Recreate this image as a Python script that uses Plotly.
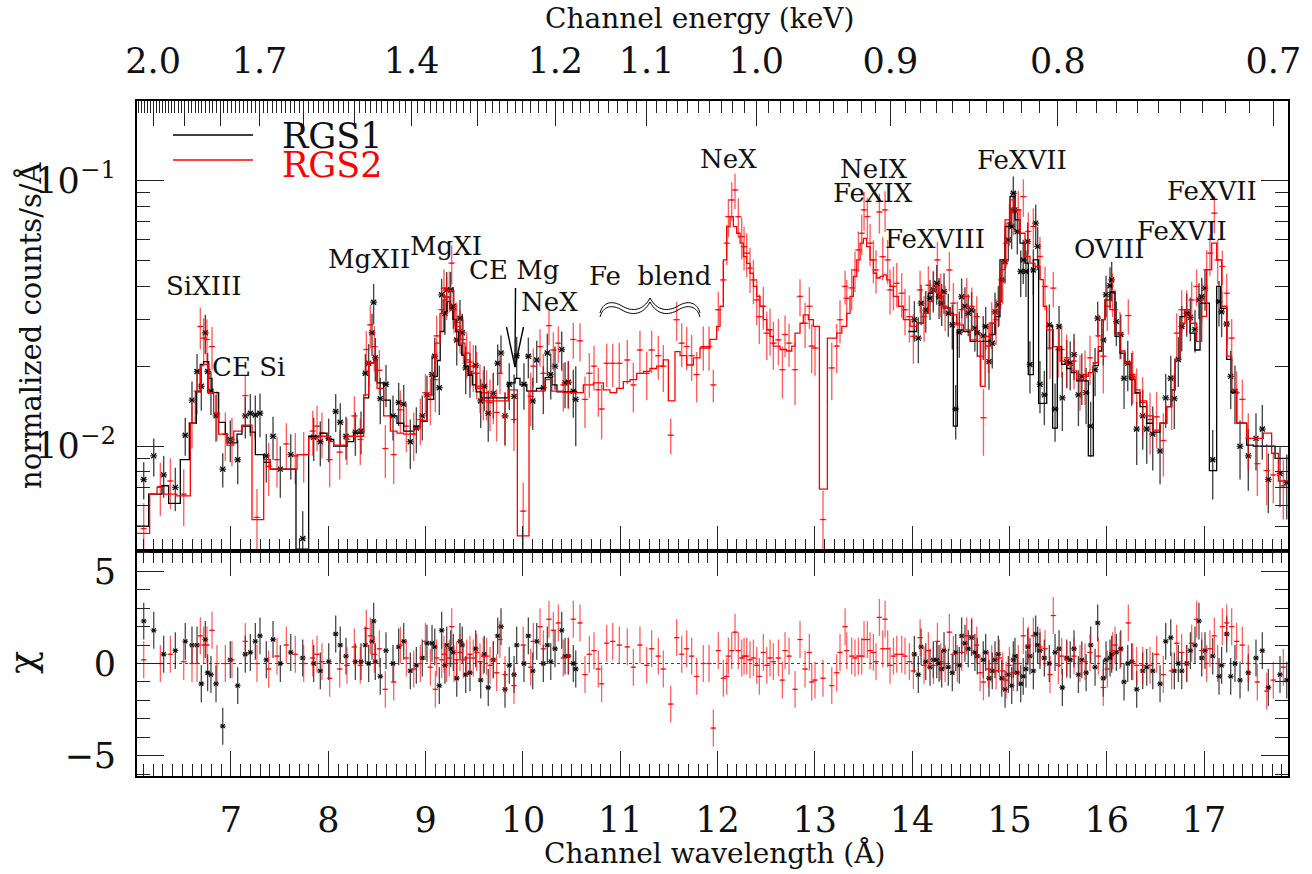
import plotly.graph_objects as go

# ------------------------------------------------------------------
# DATA  (fluxes, errors and model values in units of 1e-3 counts/s/Å)
# ------------------------------------------------------------------
FLUX_UNIT = 1e-3

# RGS1 data points (wavelength Å, flux, 1-sigma error, chi residual)
rgs1_wl = [
    6.103, 6.206, 6.308, 6.428, 6.530, 6.599, 6.651, 6.695, 6.736, 6.760,
    6.794, 6.846, 6.915, 6.993, 7.069, 7.147, 7.199, 7.250, 7.298, 7.363,
    7.432, 7.507, 7.614, 7.737, 7.850, 7.918, 8.004, 8.076, 8.123, 8.182,
    8.278, 8.336, 8.381, 8.415, 8.449, 8.466, 8.483, 8.534, 8.593, 8.665,
    8.723, 8.775, 8.843, 8.905, 8.966, 9.014, 9.066, 9.094, 9.141, 9.165,
    9.199, 9.217, 9.258, 9.285, 9.320, 9.353, 9.377, 9.412, 9.456, 9.515,
    9.566, 9.603, 9.644, 9.696, 9.741, 9.775, 9.816, 9.860, 9.909, 9.936,
    10.011, 10.056, 10.101, 10.142, 10.210, 10.251, 10.286, 10.330, 10.399, 10.433,
    10.467, 10.518, 10.543,
    14.023, 14.064, 14.092, 14.140, 14.184, 14.218, 14.253, 14.277, 14.304, 14.328,
    14.372, 14.413, 14.448, 14.485, 14.509, 14.543, 14.577, 14.611, 14.645, 14.670,
    14.731, 14.756, 14.790, 14.824, 14.852, 14.886, 14.921, 14.955, 14.989, 15.023,
    15.040, 15.057, 15.081, 15.116, 15.142, 15.170, 15.188, 15.211, 15.246, 15.270,
    15.290, 15.314, 15.359, 15.410, 15.469, 15.510, 15.544, 15.589, 15.625, 15.664,
    15.709, 15.744, 15.788, 15.835, 15.880, 15.907, 15.965, 15.993, 16.034, 16.051,
    16.099, 16.144, 16.178, 16.216, 16.257, 16.308, 16.370, 16.411, 16.473, 16.548,
    16.606, 16.658, 16.695, 16.736, 16.771, 16.822, 16.860, 16.907, 16.948, 16.976,
    17.010, 17.089, 17.154, 17.181, 17.233, 17.274, 17.318, 17.370, 17.455, 17.534,
    17.599, 17.661, 17.781, 17.850,
]
rgs1_flux = [
    7.5, 9.2, 7.8, 7.0, 11.0, 14.9, 19.1, 16.8, 26.7, 19.1,
    16.1, 13.0, 8.2, 10.6, 8.9, 13.0, 13.3, 13.1, 13.3, 9.2,
    10.9, 8.2, 9.3, 4.5, 10.8, 10.4, 10.7, 13.5, 12.3, 10.9,
    11.3, 11.4, 18.8, 20.5, 26.7, 34.8, 21.5, 15.1, 17.1, 13.0,
    14.6, 14.4, 10.4, 11.7, 13.0, 15.6, 18.6, 21.8, 16.6, 37.1,
    31.6, 38.7, 38.7, 33.6, 25.1, 30.3, 26.7, 19.7, 18.8, 20.1,
    14.8, 16.8, 13.3, 15.8, 20.5, 22.4, 13.0, 17.1, 15.4, 21.9,
    17.1, 21.8, 14.8, 21.1, 16.6, 22.4, 18.6, 20.0, 23.1, 17.3,
    17.4, 16.1, 15.0,
    29.9, 25.5, 34.5, 32.5, 36.0, 38.7, 41.0, 36.5, 34.5, 38.1,
    31.6, 28.6, 13.8, 26.8, 36.5, 33.6, 31.6, 32.5, 27.8, 26.7,
    26.0, 28.2, 20.8, 24.4, 32.0, 34.0, 42.2, 49.4, 59.7, 67.0,
    89.3, 77.4, 64.1, 45.4, 50.2, 45.4, 58.8, 20.3, 46.0, 69.0,
    56.4, 17.1, 15.6, 28.6, 13.8, 28.2, 15.2, 20.8, 20.5, 22.1,
    15.6, 18.3, 15.9, 11.9, 19.4, 30.3, 25.1, 37.1, 40.1, 42.2,
    29.4, 26.3, 18.0, 20.5, 18.3, 11.6, 13.0, 11.6, 11.1, 9.6,
    15.2, 18.0, 15.1, 21.2, 28.2, 31.6, 30.5, 27.5, 35.5, 36.5,
    39.3, 8.9, 35.0, 32.0, 28.8, 18.3, 16.1, 10.0, 9.2, 10.7,
    11.6, 7.5, 7.9, 7.3,
]
rgs1_err = [
    1.2, 1.5, 1.4, 1.3, 1.8, 2.6, 3.1, 3.2, 4.5, 3.3,
    3.0, 2.6, 1.2, 1.9, 1.7, 2.3, 2.4, 2.4, 2.5, 1.9,
    2.0, 1.8, 1.8, 1.2, 2.0, 2.0, 2.0, 2.2, 2.2, 2.0,
    2.1, 2.1, 3.4, 3.7, 4.8, 6.0, 4.0, 3.0, 3.1, 2.5,
    2.7, 2.6, 2.2, 2.3, 2.5, 2.8, 3.2, 3.8, 3.5, 5.5,
    5.4, 6.5, 6.5, 6.0, 5.0, 5.2, 4.8, 4.0, 3.6, 3.8,
    3.1, 3.2, 2.9, 3.1, 3.6, 3.7, 2.9, 3.4, 3.2, 3.9,
    3.4, 3.8, 3.3, 3.8, 3.4, 4.1, 3.6, 3.7, 3.9, 3.4,
    3.5, 3.3, 5.0,
    5.2, 5.0, 6.0, 5.8, 6.2, 6.6, 7.0, 6.4, 6.2, 6.6,
    5.8, 5.5, 3.2, 5.3, 6.2, 6.0, 5.7, 5.5, 5.1, 5.0,
    4.9, 5.2, 4.5, 4.8, 5.8, 6.0, 7.5, 8.5, 10.0, 12.0,
    14.0, 13.0, 11.5, 9.0, 9.5, 9.0, 10.5, 4.5, 9.0, 12.0,
    10.5, 3.8, 3.6, 5.5, 3.4, 5.5, 3.8, 4.3, 4.3, 4.4,
    3.7, 4.0, 3.8, 2.8, 4.0, 4.6, 5.0, 6.6, 7.0, 7.2,
    5.6, 5.0, 4.2, 4.4, 4.1, 3.1, 3.3, 3.0, 3.0, 2.4,
    3.5, 3.9, 3.5, 4.5, 5.5, 5.8, 5.7, 5.0, 5.5, 6.5,
    7.0, 2.6, 6.8, 6.3, 4.8, 4.5, 4.0, 2.5, 2.4, 2.6,
    2.7, 1.9, 2.0, 2.0,
]
rgs1_chi = [
    2.3, 1.8, 0.5, 0.7, 1.2, 1.0, 1.0, -1.1, 1.3, -0.5,
    -0.6, -1.1, -3.4, 0.2, -1.2, 0.5, 0.6, 1.2, 1.5, 0.2,
    1.3, 0.0, 0.6, 0.3, 0.0, -0.4, 0.1, 1.6, 1.0, 0.4,
    0.1, 0.1, 1.0, 0.0, 1.2, 2.3, 0.1, -0.7, 0.7, 0.0,
    0.9, 1.2, -0.4, -0.1, 0.3, 1.1, 1.1, 0.9, -1.2, 1.8,
    -0.1, 1.0, 0.8, 0.6, -0.8, 1.2, 1.0, -0.6, -0.5, 0.8,
    -0.9, 0.5, -1.3, 0.2, 1.5, 2.0, -1.4, -0.1, -0.6, 1.0,
    0.0, 1.5, -0.4, 1.2, 0.0, 1.0, 0.1, 0.8, 1.8, 0.4,
    0.4, 0.0, -0.3,
    0.5, -0.6, 0.9, 0.1, -0.2, 0.2, 0.2, 0.0, -0.3, 0.7,
    -0.2, -0.5, 0.6, -0.1, 1.5, 1.1, 0.8, 1.4, 0.6, 0.4,
    0.2, 0.6, -0.8, -0.4, 0.2, 0.5, -0.8, -1.4, -0.6, -1.2,
    0.2, 0.4, -0.5, -1.1, -0.7, -0.3, 0.9, 0.4, -0.4, 1.6,
    1.0, 0.7, 0.3, 0.0, 0.6, 0.8, -1.3, 0.3, 0.2, 0.8,
    -0.6, 0.2, -0.5, 1.0, -0.2, 2.2, -0.8, 0.2, 0.3, 0.5,
    0.6, 0.8, -1.0, 0.0, 0.1, -1.4, -0.4, -0.2, -0.4, -1.1,
    1.2, 1.4, -0.4, 0.0, -0.4, 0.0, 0.7, 1.0, 2.3, 0.3,
    0.7, 0.4, -0.7, -0.1, 1.6, -0.7, 0.0, -0.9, -0.5, 0.3,
    0.7, -1.3, -0.6, -0.9,
]

# RGS2 data points
rgs2_wl = [
    6.103, 6.274, 6.377, 6.514, 6.599, 6.651, 6.685, 6.719, 6.753, 6.805,
    6.856, 6.942, 7.010, 7.147, 7.267, 7.387, 7.473, 7.569, 7.661, 7.747,
    7.840, 7.884, 7.935, 8.014, 8.117, 8.192, 8.268, 8.329, 8.391, 8.432,
    8.473, 8.525, 8.586, 8.672, 8.741, 8.802, 8.878, 8.946, 8.998, 9.049,
    9.100, 9.114, 9.165, 9.189, 9.216, 9.244, 9.268, 9.292, 9.319, 9.353,
    9.388, 9.422, 9.456, 9.490, 9.525, 9.559, 9.593, 9.627, 9.662, 9.696,
    9.730, 9.764, 9.816, 9.908, 10.003, 10.080, 10.107, 10.176, 10.210, 10.268,
    10.313, 10.364, 10.415, 10.467, 10.518, 10.587, 10.638, 10.683, 10.731, 10.775,
    10.809, 10.861, 10.923, 10.991, 11.073, 11.135, 11.203, 11.272, 11.323, 11.392,
    11.443, 11.519, 11.580, 11.632, 11.683, 11.734, 11.786, 11.854, 11.913, 11.957,
    12.008, 12.060, 12.095, 12.112, 12.146, 12.180, 12.214, 12.249, 12.273, 12.300,
    12.334, 12.369, 12.403, 12.430, 12.471, 12.506, 12.540, 12.574, 12.626, 12.667,
    12.694, 12.735, 12.797, 12.848, 12.900, 12.944, 12.968, 13.002, 13.084, 13.174,
    13.225, 13.259, 13.311, 13.328, 13.379, 13.413, 13.448, 13.482, 13.506, 13.540,
    13.568, 13.602, 13.629, 13.664, 13.698, 13.722, 13.749, 13.773, 13.808, 13.842,
    13.893, 13.927, 13.972, 14.013, 14.082, 14.123, 14.167, 14.219, 14.260, 14.294,
    14.339, 14.383, 14.424, 14.465, 14.510, 14.561, 14.613, 14.664, 14.698, 14.733,
    14.784, 14.818, 14.863, 14.897, 14.931, 14.966, 15.000, 15.041, 15.091, 15.143,
    15.194, 15.246, 15.314, 15.366, 15.417, 15.451, 15.503, 15.537, 15.588, 15.664,
    15.725, 15.777, 15.828, 15.914, 15.965, 16.006, 16.061, 16.085, 16.136, 16.222,
    16.267, 16.308, 16.369, 16.445, 16.513, 16.582, 16.667, 16.719, 16.770, 16.822,
    16.873, 16.924, 16.976, 17.027, 17.061, 17.106, 17.140, 17.188, 17.233, 17.284,
    17.335, 17.394, 17.455, 17.548, 17.644, 17.712, 17.815,
]
rgs2_flux = [
    4.9, 7.06, 7.4, 6.6, 12.2, 16.1, 28.2, 25.5, 25.2, 23.7,
    13.3, 11.1, 10.6, 15.5, 5.4, 8.4, 8.9, 10.2, 9.2, 9.3,
    11.4, 11.9, 11.2, 8.9, 9.5, 10.6, 13.0, 10.6, 23.1, 28.6,
    23.7, 19.3, 9.8, 9.3, 13.7, 11.9, 11.1, 12.6, 15.9, 15.0,
    17.8, 26.0, 32.6, 39.3, 36.4, 38.6, 48.8, 32.6, 29.2, 27.4,
    25.2, 22.4, 20.7, 20.0, 18.8, 16.8, 15.9, 15.9, 14.6, 15.4,
    13.4, 18.8, 13.0, 12.6, 5.7, 15.4, 20.0, 23.7, 18.8, 28.4,
    23.0, 24.4, 17.0, 17.3, 25.2, 24.9, 15.0, 18.8, 20.0, 16.3,
    13.8, 20.5, 20.5, 20.5, 21.1, 17.0, 23.0, 18.8, 23.0, 21.9,
    20.0, 11.0, 29.9, 24.4, 23.7, 21.9, 18.6, 23.7, 23.7, 17.0,
    32.6, 42.2, 58.0, 73.0, 84.3, 91.9, 73.0, 61.4, 56.3, 53.2,
    46.7, 42.2, 35.5, 30.7, 33.6, 26.6, 27.4, 24.4, 25.1, 19.4,
    26.3, 24.4, 19.4, 36.6, 29.0, 33.6, 23.8, 23.4, 5.3, 19.7,
    23.8, 29.9, 39.9, 36.0, 39.4, 46.0, 54.7, 63.2, 77.4, 73.0,
    58.0, 50.2, 46.0, 76.0, 51.6, 77.4, 50.2, 38.7, 39.9, 41.0,
    37.6, 32.6, 30.7, 25.9, 38.7, 30.7, 40.3, 38.7, 50.2, 37.6,
    33.6, 46.0, 34.5, 29.0, 32.6, 36.6, 33.6, 30.7, 21.8, 12.8,
    23.8, 29.0, 29.9, 35.0, 42.2, 58.0, 69.0, 75.5, 77.4, 86.8,
    64.2, 67.0, 51.7, 39.9, 23.4, 39.3, 23.1, 23.1, 21.5, 20.9,
    17.8, 18.6, 21.5, 26.0, 21.8, 33.6, 37.6, 32.6, 26.6, 31.0,
    18.6, 15.8, 14.6, 12.6, 12.9, 10.5, 15.0, 26.6, 32.6, 32.6,
    35.5, 39.9, 35.5, 46.1, 53.2, 75.2, 50.2, 47.4, 37.6, 25.5,
    15.9, 15.0, 10.7, 8.6, 8.1, 7.8, 7.1,
]
rgs2_err = [
    1.2, 1.6, 1.6, 1.6, 2.4, 3.0, 5.0, 4.8, 4.8, 4.4,
    2.8, 2.3, 2.2, 3.0, 1.5, 1.9, 1.9, 2.0, 2.0, 2.0,
    2.2, 2.3, 2.2, 1.9, 2.0, 2.1, 2.4, 2.1, 4.0, 5.3,
    4.6, 3.7, 2.2, 2.1, 2.5, 2.4, 2.3, 2.5, 2.8, 3.0,
    4.4, 5.0, 5.8, 7.0, 6.6, 6.8, 8.1, 6.0, 5.5, 5.1,
    4.8, 4.4, 4.1, 4.0, 3.8, 3.5, 3.4, 3.4, 3.2, 3.3,
    3.0, 3.1, 3.0, 3.0, 1.6, 3.5, 3.3, 3.8, 3.4, 4.4,
    3.8, 3.8, 3.5, 3.5, 3.9, 4.1, 3.3, 3.6, 3.8, 3.4,
    3.2, 3.8, 3.8, 4.0, 4.0, 3.6, 4.2, 3.9, 4.2, 4.1,
    4.0, 1.7, 5.0, 4.6, 4.4, 4.3, 4.0, 4.5, 4.5, 2.4,
    5.5, 7.5, 10.0, 12.0, 14.0, 14.0, 12.5, 11.0, 10.5, 10.0,
    9.0, 8.0, 7.0, 6.5, 6.2, 5.5, 5.5, 5.0, 5.0, 4.3,
    4.7, 4.5, 5.1, 5.8, 5.6, 6.0, 5.0, 5.0, 1.5, 4.8,
    5.0, 5.5, 5.8, 6.2, 7.0, 8.0, 9.5, 11.0, 13.0, 13.0,
    10.5, 9.2, 8.5, 13.0, 9.5, 13.5, 9.5, 7.5, 7.5, 7.8,
    7.2, 6.5, 6.2, 5.5, 7.0, 6.0, 7.2, 7.0, 8.5, 7.0,
    6.5, 7.8, 6.6, 6.0, 6.3, 6.3, 5.9, 5.9, 5.0, 3.6,
    5.0, 5.8, 5.9, 6.7, 8.0, 11.0, 12.5, 13.5, 14.0, 14.0,
    11.5, 11.5, 9.5, 7.5, 5.5, 6.0, 5.0, 5.0, 4.8, 4.5,
    4.2, 4.3, 4.5, 5.3, 6.0, 6.5, 7.0, 6.2, 5.4, 4.7,
    4.2, 3.8, 3.6, 3.3, 3.1, 2.8, 3.5, 5.0, 6.0, 6.0,
    6.0, 6.3, 6.5, 8.5, 9.5, 12.0, 9.5, 7.0, 7.0, 4.6,
    3.2, 2.8, 2.6, 2.1, 2.1, 1.7, 1.8,
]
rgs2_chi = [
    0.2, 0.0, 0.5, 0.1, 0.0, 0.0, 1.5, 1.0, 1.0, 1.8,
    0.0, 0.0, 0.2, 1.2, 0.0, -0.3, 0.4, 1.0, 0.5, 0.0,
    0.3, 0.5, 0.1, -0.8, -0.3, -0.1, 0.9, -0.1, 1.9, 1.5,
    0.5, 0.8, -1.4, -1.0, 1.0, 0.3, -0.3, 0.0, 1.2, -0.2,
    -1.4, 0.3, 0.2, 0.5, 0.0, 0.3, 2.0, 0.0, 0.2, 0.6,
    0.2, 0.3, 0.5, 0.3, 0.6, 0.1, 0.4, 0.4, -0.1, 0.2,
    -0.5, 1.3, -0.6, -1.2, 1.0, -0.2, 1.2, 2.0, 0.8, 2.4,
    1.8, 2.2, 0.3, 0.4, 2.4, 2.2, -0.6, 0.5, 0.7, -0.3,
    -1.1, 1.1, 1.2, 1.0, 0.9, -0.2, 1.0, -0.1, 0.8, 0.4,
    -0.3, -2.2, 1.4, 0.5, 0.8, 0.4, -0.7, 0.0, 0.0, -3.5,
    0.7, -0.8, -0.7, 0.4, 0.7, 1.7, 0.7, 0.3, 0.4, 0.4,
    0.2, 0.3, -0.1, -0.7, 0.6, -0.1, 0.3, 0.1, 0.3, -0.9,
    0.7, 0.4, -1.4, 1.3, -0.3, 0.6, -1.0, -0.9, -0.8, -1.2,
    -0.5, 0.6, 2.0, 0.7, 0.4, 0.3, 0.4, 0.4, 1.3, 1.3,
    0.7, 0.6, 0.1, 2.5, 0.8, 2.4, 0.8, -0.1, 0.4, 0.5,
    0.5, 0.4, 0.1, -0.4, 1.4, -0.1, 0.7, -0.1, 1.2, 0.1,
    0.0, 1.7, 0.5, 0.0, 0.6, 1.5, 1.5, 1.0, -0.5, -1.0,
    -0.3, 0.0, -0.4, 0.3, -0.4, -0.9, -0.1, -0.5, 0.0, 1.5,
    1.0, 1.5, 0.9, 0.8, -0.6, 2.6, -0.1, 0.4, 0.2, 0.4,
    0.0, 0.1, 0.6, 0.4, -1.3, -0.3, 0.7, 1.0, 0.7, 2.2,
    0.1, -0.1, -0.1, -0.1, 0.5, -0.6, -0.4, 1.1, 0.6, 0.0,
    1.1, 2.4, 0.7, 0.0, 0.8, 1.5, 0.0, 2.0, 2.2, 2.0,
    1.2, 1.0, 0.0, -1.0, -1.5, -0.9, -0.2,
]

# Folded model (step histograms): left bin edge (Å) and model value
rgs1_model_wl = [
    6.034, 6.154, 6.291, 6.359, 6.479, 6.572, 6.644, 6.685, 6.719, 6.771,
    6.805, 6.873, 6.942, 6.959, 7.062, 7.113, 7.199, 7.250, 7.336, 7.404,
    7.668, 7.798, 7.918, 7.987, 8.055, 8.192, 8.261, 8.364, 8.415, 8.466,
    8.501, 8.569, 8.638, 8.706, 8.775, 8.877, 8.946, 9.015, 9.083, 9.12,
    9.15, 9.19, 9.22, 9.25, 9.28, 9.31, 9.34, 9.37, 9.40, 9.44,
    9.48, 9.52, 9.57, 9.85, 9.92, 9.97, 10.04, 10.14, 10.23, 10.30,
    10.35, 10.56, None,
    13.96, 14.047, 14.116, 14.167, 14.219, 14.270, 14.321, 14.390, 14.424, 14.465,
    14.527, 14.596, 14.801, 14.852, 14.903, 14.955, 15.006, 15.057, 15.109, 15.160,
    15.194, 15.246, 15.30, 15.383, 15.444, 15.492, 15.537, 15.588, 15.640, 15.691,
    15.811, 15.862, 15.914, 15.948, 15.982, 16.034, 16.085, 16.136, 16.188, 16.239,
    16.291, 16.342, 16.410, 16.479, 16.547, 16.616, 16.667, 16.702, 16.753, 16.804,
    16.856, 16.907, 16.959, 17.055, 17.130, 17.171, 17.233, 17.284, 17.335, 17.438,
    17.507, 17.73, 17.87,
]
rgs1_model_flux = [
    5.0, 6.6, 7.1, 6.1, 8.9, 12.2, 16.0, 20.3, 20.8, 18.0,
    15.9, 12.3, 11.1, 10.3, 11.1, 11.9, 11.3, 9.3, 8.7, 8.2,
    4.1, 10.9, 11.2, 10.6, 10.0, 10.4, 11.2, 15.2, 20.6, 21.1,
    17.3, 14.9, 13.0, 12.2, 11.4, 11.9, 12.4, 15.0, 18.3, 21.0,
    27.0, 32.0, 35.0, 33.0, 30.0, 27.0, 24.0, 22.0, 20.0, 18.5,
    17.0, 16.0, 15.2, 17.3, 18.0, 17.0, 16.1, 16.5, 18.1, 17.0,
    16.0, 16.0, None,
    27.0, 29.0, 31.6, 37.6, 39.9, 36.6, 33.1, 31.6, 11.9, 27.4,
    27.0, 24.8, 26.3, 30.7, 50.2, 67.0, 86.8, 71.0, 58.0, 48.8,
    18.6, 50.2, 14.5, 28.4, 11.7, 23.7, 20.3, 19.6, 18.9, 17.6,
    9.2, 20.1, 22.8, 29.9, 35.5, 38.0, 25.9, 22.4, 20.6, 17.8,
    15.9, 14.1, 12.2, 11.3, 12.2, 14.1, 16.3, 21.2, 30.7, 31.8,
    26.6, 23.0, 34.5, 8.1, 39.9, 33.0, 21.2, 15.9, 12.2, 10.1,
    10.0, 9.0, 9.0,
]
rgs2_model_wl = [
    6.034, 6.164, 6.240, 6.308, 6.445, 6.582, 6.634, 6.685, 6.719, 6.771,
    6.822, 6.873, 6.959, 7.028, 7.113, 7.216, 7.336, 7.404, 7.678, 7.798,
    7.901, 8.004, 8.055, 8.192, 8.364, 8.415, 8.466, 8.501, 8.569, 8.638,
    8.706, 8.775, 8.877, 8.946, 9.015, 9.060, 9.096, 9.148, 9.182, 9.216,
    9.251, 9.302, 9.353, 9.405, 9.456, 9.525, 9.593, 9.850, 9.943, 10.063,
    10.227, 10.296, 10.415, 10.621, 10.724, 10.827, 10.895, 10.964, 11.032, 11.101,
    11.169, 11.238, 11.306, 11.375, 11.443, 11.495, 11.563, 11.615, 11.683, 11.752,
    11.820, 11.923, 11.991, 12.026, 12.060, 12.094, 12.129, 12.163, 12.197, 12.232,
    12.266, 12.300, 12.334, 12.369, 12.403, 12.437, 12.471, 12.506, 12.540, 12.574,
    12.643, 12.711, 12.763, 12.797, 12.848, 12.882, 12.934, 12.985, 13.047, 13.129,
    13.225, 13.277, 13.328, 13.362, 13.396, 13.431, 13.465, 13.499, 13.533, 13.568,
    13.602, 13.636, 13.670, 13.705, 13.739, 13.773, 13.807, 13.859, 13.910, 13.979,
    14.047, 14.116, 14.167, 14.219, 14.270, 14.321, 14.390, 14.458, 14.527, 14.596,
    14.664, 14.705, 14.750, 14.801, 14.852, 14.903, 14.955, 15.006, 15.057, 15.109,
    15.160, 15.211, 15.263, 15.314, 15.348, 15.383, 15.451, 15.520, 15.588, 15.640,
    15.691, 15.760, 15.811, 15.862, 15.914, 15.948, 15.982, 16.034, 16.085, 16.136,
    16.188, 16.239, 16.291, 16.342, 16.410, 16.479, 16.547, 16.616, 16.667, 16.702,
    16.753, 16.804, 16.856, 16.924, 16.976, 17.027, 17.079, 17.130, 17.181, 17.233,
    17.284, 17.335, 17.438, 17.609, 17.695, 17.764, 17.87,
]
rgs2_model_flux = [
    4.7, 6.6, 7.0, 6.6, 6.5, 12.2, 16.1, 20.1, 20.3, 15.9,
    13.3, 11.1, 10.1, 11.4, 12.0, 5.3, 8.9, 8.2, 9.3, 10.75,
    10.9, 10.4, 10.1, 10.9, 15.6, 20.6, 21.1, 16.5, 13.0, 11.4,
    11.2, 11.1, 11.7, 12.5, 15.6, 18.7, 24.4, 31.6, 35.5, 36.4,
    32.6, 28.2, 24.4, 21.1, 18.8, 16.5, 14.8, 16.3, 4.6, 16.1,
    17.8, 16.1, 15.9, 17.0, 17.3, 16.3, 15.9, 16.5, 17.5, 17.8,
    18.8, 19.1, 19.6, 20.0, 21.1, 14.8, 22.7, 21.9, 20.2, 21.5,
    23.4, 25.2, 28.2, 33.6, 50.2, 66.9, 73.0, 66.9, 63.2, 58.0,
    51.6, 48.7, 44.7, 39.9, 36.6, 33.6, 29.9, 27.4, 25.9, 23.8,
    23.1, 22.8, 23.8, 26.6, 29.0, 31.2, 29.9, 28.2, 6.9, 25.5,
    26.6, 28.2, 31.6, 36.6, 43.5, 50.2, 58.0, 60.5, 56.3, 50.2,
    44.7, 42.9, 43.5, 44.1, 42.2, 39.9, 36.6, 33.6, 29.9, 28.2,
    29.0, 31.6, 35.0, 39.9, 36.6, 33.1, 31.2, 28.6, 27.4, 25.1,
    24.8, 16.8, 25.9, 29.0, 32.6, 46.1, 71.0, 84.4, 77.4, 63.2,
    51.7, 48.8, 47.4, 42.3, 33.6, 27.4, 23.7, 20.9, 20.3, 19.2,
    17.8, 18.3, 18.9, 20.6, 23.7, 29.9, 35.5, 32.6, 26.6, 22.8,
    20.6, 18.3, 16.3, 14.8, 13.0, 11.5, 12.2, 14.1, 16.3, 21.2,
    29.0, 32.6, 29.0, 24.8, 30.8, 46.1, 58.0, 50.2, 33.6, 21.8,
    16.3, 12.2, 10.7, 11.2, 9.4, 7.4, 7.4,
]

wavelength_ticks = [7, 8, 9, 10, 11, 12, 13, 14, 15, 16, 17]
energy_tick_labels = ["2.0", "1.7", "1.4", "1.2", "1.1", "1.0", "0.9", "0.8", "0.7"]
line_labels = ["SiXIII", "CE Si", "MgXII", "MgXI", "CE Mg", "NeX", "Fe  blend",
               "NeX", "NeIX", "FeXIX", "FeXVIII", "FeXVII", "OVIII", "FeXVII", "FeXVII"]

for a, b in [(rgs1_wl, rgs1_flux), (rgs1_wl, rgs1_err), (rgs1_wl, rgs1_chi),
             (rgs2_wl, rgs2_flux), (rgs2_wl, rgs2_err), (rgs2_wl, rgs2_chi),
             (rgs1_model_wl, rgs1_model_flux), (rgs2_model_wl, rgs2_model_flux)]:
    assert len(a) == len(b), (len(a), len(b))

# ------------------------------------------------------------------
# LAYOUT HELPERS
# ------------------------------------------------------------------
W, H = 1312, 874
ML, MR, MT, MB = 137, 24, 101, 98
PW, PH = W - ML - MR, H - MT - MB
HC = 12.3984  # keV*Å
XR = [6.034, 17.863]
FONT = "DejaVu Serif"
INK = "#111111"


def sc(v):
    return [None if x is None else x * FLUX_UNIT for x in v]


def px(x, y):
    return (x - ML) / PW, (H - MB - y) / PH


def pt(x, y):
    a, b = px(x, y)
    return f"{a:.5f},{b:.5f}"


fig = go.Figure()

blk_bar = "rgba(0,0,0,0.72)"
red_bar = "rgba(255,0,0,0.62)"

# ---- spectra (top panel)
fig.add_trace(go.Scatter(
    x=rgs1_wl, y=sc(rgs1_flux), mode="markers", xaxis="x", yaxis="y",
    marker=dict(symbol="x-thin-open", size=5, color="black", line=dict(width=1.3, color="black")),
    error_y=dict(type="data", array=sc(rgs1_err), thickness=1.4, width=0, color=blk_bar),
    error_x=dict(type="constant", value=0.035, thickness=1.4, width=0, color=blk_bar),
    hoverinfo="skip", showlegend=False))
fig.add_trace(go.Scatter(
    x=rgs2_wl, y=sc(rgs2_flux), mode="markers", xaxis="x", yaxis="y",
    marker=dict(symbol="line-ew-open", size=3, color="red", line=dict(width=1, color="red")),
    error_y=dict(type="data", array=sc(rgs2_err), thickness=1.4, width=0, color=red_bar),
    error_x=dict(type="constant", value=0.035, thickness=1.4, width=0, color=red_bar),
    hoverinfo="skip", showlegend=False))
fig.add_trace(go.Scatter(
    x=rgs1_model_wl, y=sc(rgs1_model_flux), mode="lines", xaxis="x", yaxis="y",
    line=dict(shape="hv", color="black", width=1.3), connectgaps=False,
    hoverinfo="skip", showlegend=False))
fig.add_trace(go.Scatter(
    x=rgs2_model_wl, y=sc(rgs2_model_flux), mode="lines", xaxis="x", yaxis="y",
    line=dict(shape="hv", color="red", width=1.3), connectgaps=False,
    hoverinfo="skip", showlegend=False))
# transparent copies so that the two energy axes (x3, x4) are drawn
for ax in ("x3", "x4"):
    fig.add_trace(go.Scatter(
        x=rgs2_model_wl, y=sc(rgs2_model_flux), mode="lines", xaxis=ax, yaxis="y",
        line=dict(color="rgba(0,0,0,0)", width=0), hoverinfo="skip", showlegend=False))

# ---- residuals (bottom panel)
fig.add_trace(go.Scatter(
    x=rgs1_wl, y=rgs1_chi, mode="markers", xaxis="x2", yaxis="y2",
    marker=dict(symbol="x-thin-open", size=4, color="black", line=dict(width=1.2, color="black")),
    error_y=dict(type="constant", value=1, thickness=1.3, width=0, color=blk_bar),
    error_x=dict(type="constant", value=0.03, thickness=1.3, width=0, color=blk_bar),
    hoverinfo="skip", showlegend=False))
fig.add_trace(go.Scatter(
    x=rgs2_wl, y=rgs2_chi, mode="markers", xaxis="x2", yaxis="y2",
    marker=dict(symbol="line-ew-open", size=3, color="red", line=dict(width=1, color="red")),
    error_y=dict(type="constant", value=1, thickness=1.3, width=0, color=red_bar),
    error_x=dict(type="constant", value=0.03, thickness=1.3, width=0, color=red_bar),
    hoverinfo="skip", showlegend=False))

# ------------------------------------------------------------------
# AXES
# ------------------------------------------------------------------
tickfont = dict(family=FONT, size=35, color=INK)
base = dict(showgrid=False, zeroline=False, showline=True, linecolor="black",
            linewidth=2, ticks="inside", tickcolor="#222", tickwidth=1.3)

e_labelled = [float(s) for s in energy_tick_labels]
e_labelled_wl = [HC / e for e in e_labelled]
e_long_wl = [HC / (e / 10) for e in range(7, 21) if f"{e / 10:.1f}" not in energy_tick_labels]
e_minor_wl = [HC / (e / 100) for e in range(70, 206) if e % 10 != 0]

fig.update_layout(
    width=W, height=H,
    margin=dict(l=ML, r=MR, t=MT, b=MB),
    paper_bgcolor="white", plot_bgcolor="white",
    showlegend=False,
    xaxis=dict(base, domain=[0, 1], anchor="y", range=XR, tick0=0, dtick=1,
               ticklen=25, showticklabels=False,
               minor=dict(ticks="inside", tick0=0, dtick=0.1, ticklen=12,
                          tickcolor="#222", tickwidth=1.2)),
    xaxis3=dict(base, overlaying="x", anchor="y", side="top", range=XR,
                tickmode="array", tickvals=e_labelled_wl, ticktext=energy_tick_labels,
                ticklen=25, tickfont=tickfont, ticklabelstandoff=12,
                minor=dict(ticks="inside", tickmode="array", tickvals=e_minor_wl,
                           ticklen=12, tickcolor="#222", tickwidth=1.1)),
    xaxis4=dict(showgrid=False, zeroline=False, showline=False, overlaying="x",
                anchor="y", side="top", range=XR, tickmode="array",
                tickvals=e_long_wl, showticklabels=False, ticks="inside",
                ticklen=25, tickcolor="#222", tickwidth=1.3),
    yaxis=dict(base, domain=[1 / 3, 1], anchor="x", type="log",
               range=[-2.394, -0.702], tickmode="array", tickvals=[0.01, 0.1],
               ticktext=["10<sup>−2</sup>", "10<sup>−1</sup>"], ticklen=27,
               mirror="ticks", tickfont=tickfont, ticklabelstandoff=12,
               minor=dict(ticks="inside", tickmode="array",
                          tickvals=[0.005, 0.006, 0.007, 0.008, 0.009,
                                    0.02, 0.03, 0.04, 0.05, 0.06, 0.07, 0.08, 0.09, 0.2],
                          ticklen=13, tickcolor="#222", tickwidth=1.3)),
    xaxis2=dict(base, domain=[0, 1], anchor="y2", range=XR, tickmode="array",
                tickvals=wavelength_ticks, ticktext=[str(t) for t in wavelength_ticks],
                ticklen=25, mirror="ticks", tickfont=tickfont, ticklabelstandoff=12,
                minor=dict(ticks="inside", tick0=0, dtick=0.1, ticklen=12,
                           tickcolor="#222", tickwidth=1.2)),
    yaxis2=dict(base, domain=[0, 1 / 3], anchor="x2", range=[-6.1, 6.1],
                tickmode="array", tickvals=[-5, 0, 5], ticktext=["−5", "0", "5"],
                ticklen=27, mirror="ticks", tickfont=tickfont, ticklabelstandoff=12,
                minor=dict(ticks="inside", tick0=0, dtick=1, ticklen=13,
                           tickcolor="#222", tickwidth=1.3)),
)

# ------------------------------------------------------------------
# ANNOTATIONS, TITLES, LEGEND, DECORATIONS
# ------------------------------------------------------------------
ann = []


def text(s, x, y, size, color=INK, angle=0, xanchor="center"):
    a, b = px(x, y)
    ann.append(dict(text=s, x=a, y=b, xref="paper", yref="paper", showarrow=False,
                    xanchor=xanchor, yanchor="middle", textangle=angle,
                    font=dict(family=FONT, size=size, color=color)))


text("Channel energy (keV)", 699, 18, 28)
text("Channel wavelength (Å)", 714, 853, 28)
text("normalized counts/s/Å", 30, 325, 29, angle=-90)
text("χ", 22, 663, 38, angle=-90)
text("RGS1", 280, 136, 35, xanchor="left")
text("RGS2", 280, 165, 35, color="red", xanchor="left")

label_px = [(203, 286), (248, 367), (369, 259), (446, 246), (514, 270), (549, 302),
            (650, 276), (728, 159), (873, 169), (873, 193), (935, 239), (1022, 160),
            (1109, 249), (1182, 231), (1212, 191)]
for s, (x, y) in zip(line_labels, label_px):
    text(s, x, y, 26)

fig.update_layout(annotations=ann)

shapes = []
# legend line samples
for y, c in [(135, "black"), (160, "red")]:
    a0, b0 = px(173, y)
    a1, _ = px(253, y)
    shapes.append(dict(type="line", xref="paper", yref="paper", x0=a0, x1=a1, y0=b0, y1=b0,
                       line=dict(color=c, width=1.3)))
# arrow marking CE Mg / NeX
shapes.append(dict(type="path", xref="paper", yref="paper",
                   path=f"M {pt(515.5, 288)} L {pt(515, 367)}",
                   line=dict(color="black", width=1.4)))
shapes.append(dict(type="path", xref="paper", yref="paper",
                   path=f"M {pt(506.5, 327)} L {pt(515, 367)} L {pt(523.5, 327)}",
                   line=dict(color="black", width=1.4)))
# double wavy brace under "Fe blend"
for dy in (0, 4):
    p = (f"M {pt(600, 313 + dy)} C {pt(603, 302 + dy)} {pt(612, 300 + dy)} {pt(622, 306 + dy)} "
         f"C {pt(632, 312 + dy)} {pt(643, 311 + dy)} {pt(650, 298 + dy)} "
         f"C {pt(657, 311 + dy)} {pt(668, 312 + dy)} {pt(678, 306 + dy)} "
         f"C {pt(688, 300 + dy)} {pt(697, 302 + dy)} {pt(700, 313 + dy)}")
    shapes.append(dict(type="path", xref="paper", yref="paper", path=p,
                       line=dict(color="black", width=1)))
# dotted zero line in residual panel
shapes.append(dict(type="line", xref="x2 domain", yref="y2", x0=0, x1=1, y0=0, y1=0,
                   line=dict(color="#444", width=1.2, dash="dot"), layer="below"))
fig.update_layout(shapes=shapes)

fig.write_html("out.html")
